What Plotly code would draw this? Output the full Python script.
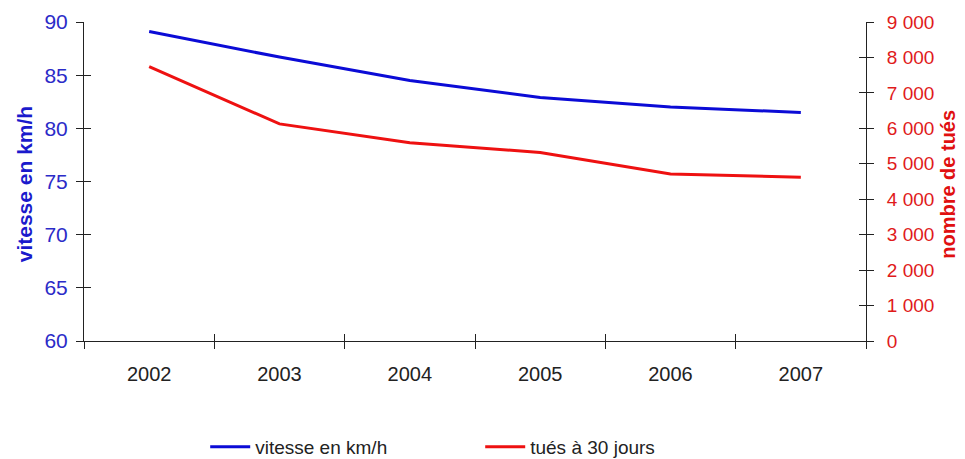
import plotly.graph_objects as go

years = ["2002", "2003", "2004", "2005", "2006", "2007"]
vitesse = [89.1, 86.7, 84.5, 82.9, 82.0, 81.5]
tues = [7742, 6126, 5593, 5318, 4709, 4620]

left_ticks = [60, 65, 70, 75, 80, 85, 90]
right_ticks = [0, 1000, 2000, 3000, 4000, 5000, 6000, 7000, 8000, 9000]
right_labels = ["0", "1 000", "2 000", "3 000", "4 000", "5 000", "6 000", "7 000", "8 000", "9 000"]

BLUE = "#0b0bd6"
RED = "#ee1111"
FONT = "Liberation Sans, Arial, sans-serif"

fig = go.Figure()
fig.add_trace(go.Scatter(x=years, y=vitesse, mode="lines", name="vitesse en km/h",
                         line=dict(color=BLUE, width=3), xaxis="x", yaxis="y"))
fig.add_trace(go.Scatter(x=years, y=tues, mode="lines", name="tués à 30 jours",
                         line=dict(color=RED, width=3), xaxis="x", yaxis="y2"))
# invisible helper traces for crossing (inside) tick marks
fig.add_trace(go.Scatter(x=[0], y=[60], mode="markers", marker=dict(opacity=0),
                         showlegend=False, hoverinfo="skip", xaxis="x2", yaxis="y3"))
fig.add_trace(go.Scatter(x=[0], y=[0], mode="markers", marker=dict(opacity=0),
                         showlegend=False, hoverinfo="skip", xaxis="x2", yaxis="y4"))

tl = 7
fig.update_layout(
    width=957, height=451,
    margin=dict(l=76, r=99, t=14, b=118, autoexpand=False),
    paper_bgcolor="white", plot_bgcolor="white",
    font=dict(family=FONT, size=20, color="#222222"),
    showlegend=True,
    legend=dict(orientation="h", x=0.155, xanchor="left", y=-0.332, yanchor="middle",
                font=dict(size=19, color="#222222"), entrywidth=220, entrywidthmode="pixels",
                itemwidth=40, bgcolor="rgba(0,0,0,0)", tracegroupgap=0),
    xaxis=dict(type="category", categoryarray=years, range=[-0.5, 5.5], automargin=False,
               showgrid=False, zeroline=False, showline=True, linecolor="#222222", linewidth=1,
               ticks="outside", tickson="boundaries", ticklen=tl, tickcolor="#222222",
               tickfont=dict(size=20, color="#222222"), ticklabelstandoff=15),
    xaxis2=dict(overlaying="x", range=[-0.5, 5.5], tickvals=[-0.5, 0.5, 1.5, 2.5, 3.5, 4.5, 5.5],
                showticklabels=False, ticks="inside", ticklen=tl, tickcolor="#222222", automargin=False,
                showgrid=False, zeroline=False, showline=False, anchor="y3"),
    yaxis=dict(range=[60, 90], tickvals=left_ticks, showgrid=False, zeroline=False, automargin=False,
               showline=True, linecolor="#222222", linewidth=1,
               ticks="outside", ticklen=tl, tickcolor="#222222",
               tickfont=dict(size=21, color="#2b2bc8"), ticklabelstandoff=4),
    yaxis2=dict(range=[0, 9000], tickvals=right_ticks, ticktext=right_labels, automargin=False,
                overlaying="y", side="right", anchor="x",
                showgrid=False, zeroline=False, showline=True, linecolor="#222222", linewidth=1,
                ticks="outside", ticklen=tl, tickcolor="#222222",
                tickfont=dict(size=19, color="#e01a1a"), ticklabelstandoff=9),
    yaxis3=dict(range=[60, 90], tickvals=left_ticks, overlaying="y", side="left", anchor="x2",
                showticklabels=False, ticks="inside", ticklen=tl, tickcolor="#222222", automargin=False,
                showgrid=False, zeroline=False, showline=False),
    yaxis4=dict(range=[0, 9000], tickvals=right_ticks, overlaying="y", side="right", anchor="x2",
                showticklabels=False, ticks="inside", ticklen=tl, tickcolor="#222222", automargin=False,
                showgrid=False, zeroline=False, showline=False),
    annotations=[
        dict(text="<b>vitesse en km/h</b>", x=-0.076, y=0.49, xref="paper", yref="paper",
             xanchor="center", yanchor="middle", textangle=-90, showarrow=False,
             font=dict(size=21, color="#1a1acc", family=FONT)),
        dict(text="<b>nombre de tués</b>", x=1.105, y=0.49, xref="paper", yref="paper",
             xanchor="center", yanchor="middle", textangle=-90, showarrow=False,
             font=dict(size=20, color="#e01010", family=FONT)),
    ],
)

fig.write_html("out.html")
